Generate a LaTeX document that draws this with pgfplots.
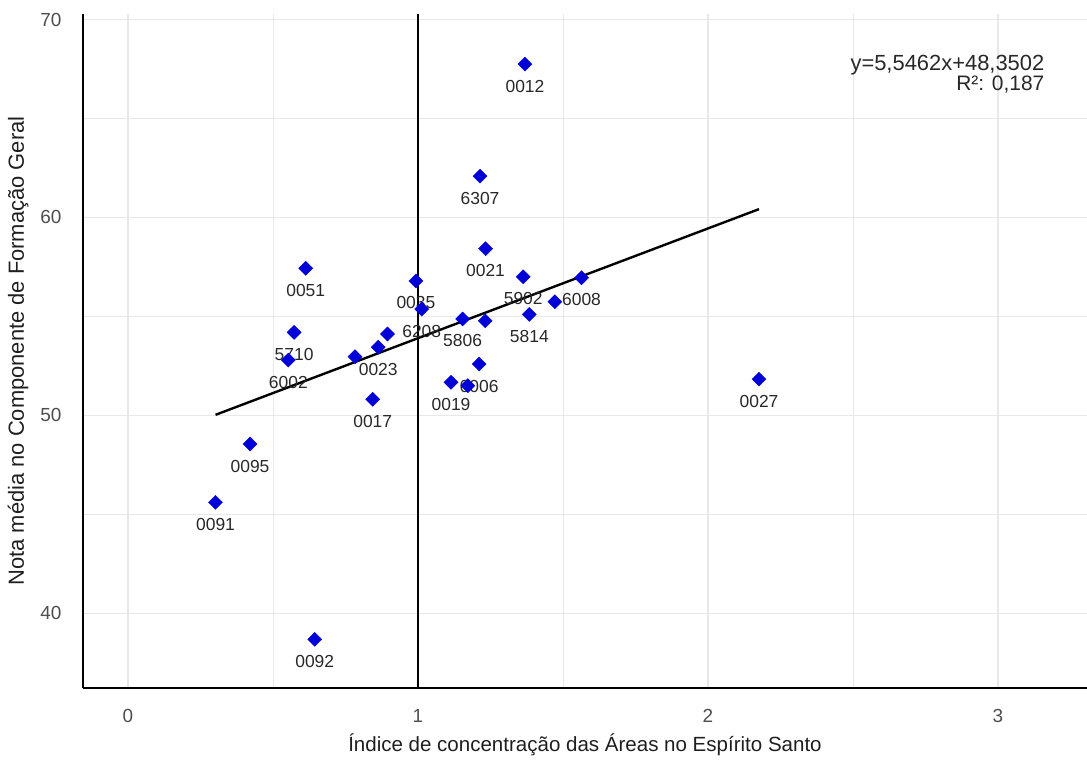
\documentclass[border=0pt]{standalone}
\usepackage{pgfplots}
\pgfplotsset{compat=1.18}
\usepackage{pgfplotstable}
\usepackage{fontspec}
\setmainfont{Liberation Sans}
\definecolor{ptblue}{RGB}{0,0,215}
\definecolor{gridgray}{RGB}{232,232,232}
\definecolor{ticktext}{RGB}{77,77,77}
\definecolor{labtext}{RGB}{40,40,40}

\pgfplotstableread{
x y label
1.369 67.75 0012
1.214 62.09 6307
1.233 58.42 0021
0.613 57.43 0051
0.993 56.79 0035
1.363 57.00 5902
1.564 56.95 6008
1.013 55.37 6208
1.154 54.87 5806
1.384 55.10 5814
0.573 54.19 5710
0.553 52.79 6002
0.863 53.44 0023
0.844 50.81 0017
1.114 51.67 0019
1.211 52.59 0006
0.421 48.55 0095
0.302 45.60 0091
0.644 38.68 0092
2.176 51.83 0027
}\labeled

\pgfplotstableread{
x y
1.232 54.77
1.472 55.74
0.783 52.96
0.895 54.11
1.172 51.50
}\unlabeled

\begin{document}
\begin{tikzpicture}
\begin{axis}[
  scale only axis, width=1004bp, height=674bp,
  xmin=-0.155, xmax=3.307, ymin=36.22, ymax=70.28,
  axis x line*=bottom, axis y line*=left,
  axis line style={black, line width=1.3bp},
  xtick={0,1,2,3}, ytick={40,50,60,70},
  minor xtick={0.5,1.5,2.5}, minor ytick={45,55,65},
  grid=both,
  major grid style={gridgray, line width=1.2bp},
  minor grid style={gridgray, line width=0.8bp},
  major tick length=0pt, minor tick length=0pt,
  /pgf/number format/assume math mode=true,
  ticklabel style={font=\fontsize{19}{19}\selectfont, text=ticktext},
  xticklabel style={anchor=center, yshift=-28bp},
  yticklabel style={anchor=center, xshift=-32bp},
  xlabel={Índice de concentração das Áreas no Espírito Santo},
  ylabel={Nota média no Componente de Formação Geral},
  xlabel style={font=\fontsize{20.6}{20.6}\selectfont, text=black!88,
    at={(axis description cs:0.5,0)}, anchor=center, yshift=-57bp},
  ylabel style={font=\fontsize{22}{22}\selectfont, text=black!88,
    at={(axis description cs:-0.0647,0.5)}, anchor=center},
]
% labels (drawn first, beneath the points)
\addplot[draw=none, mark=none,
  nodes near coords, point meta=explicit symbolic,
  every node near coord/.style={anchor=center, yshift=-22bp,
    font=\fontsize{17.5}{17.5}\selectfont, text=labtext}]
  table[x=x, y=y, meta=label] {\labeled};
% points
\addplot[only marks, mark=square*, mark size=5bp,
  mark options={rotate=45, fill=ptblue, draw=ptblue, line width=0.3bp}]
  table[x=x, y=y] {\labeled};
\addplot[only marks, mark=square*, mark size=5bp,
  mark options={rotate=45, fill=ptblue, draw=ptblue, line width=0.3bp}]
  table[x=x, y=y] {\unlabeled};
% vertical reference line at 1
\addplot[black, line width=2bp] coordinates {(1,36.22) (1,70.28)};
% regression line
\addplot[black, line width=2.4bp] coordinates {(0.302,50.025) (2.176,60.419)};
% equation
\node[anchor=base east, font=\fontsize{22}{22}\selectfont, text=labtext]
  at (axis cs:3.172,67.40) {y=5,5462x+48,3502};
\node[anchor=base east, font=\fontsize{21}{21}\selectfont, text=labtext]
  at (axis cs:3.172,66.39) {R²: 0,187};
\end{axis}
\pgfresetboundingbox
\path[use as bounding box] ([xshift=-83bp,yshift=-72bp]current axis.south west) rectangle ([yshift=14bp]current axis.north east);
\end{tikzpicture}
\end{document}
